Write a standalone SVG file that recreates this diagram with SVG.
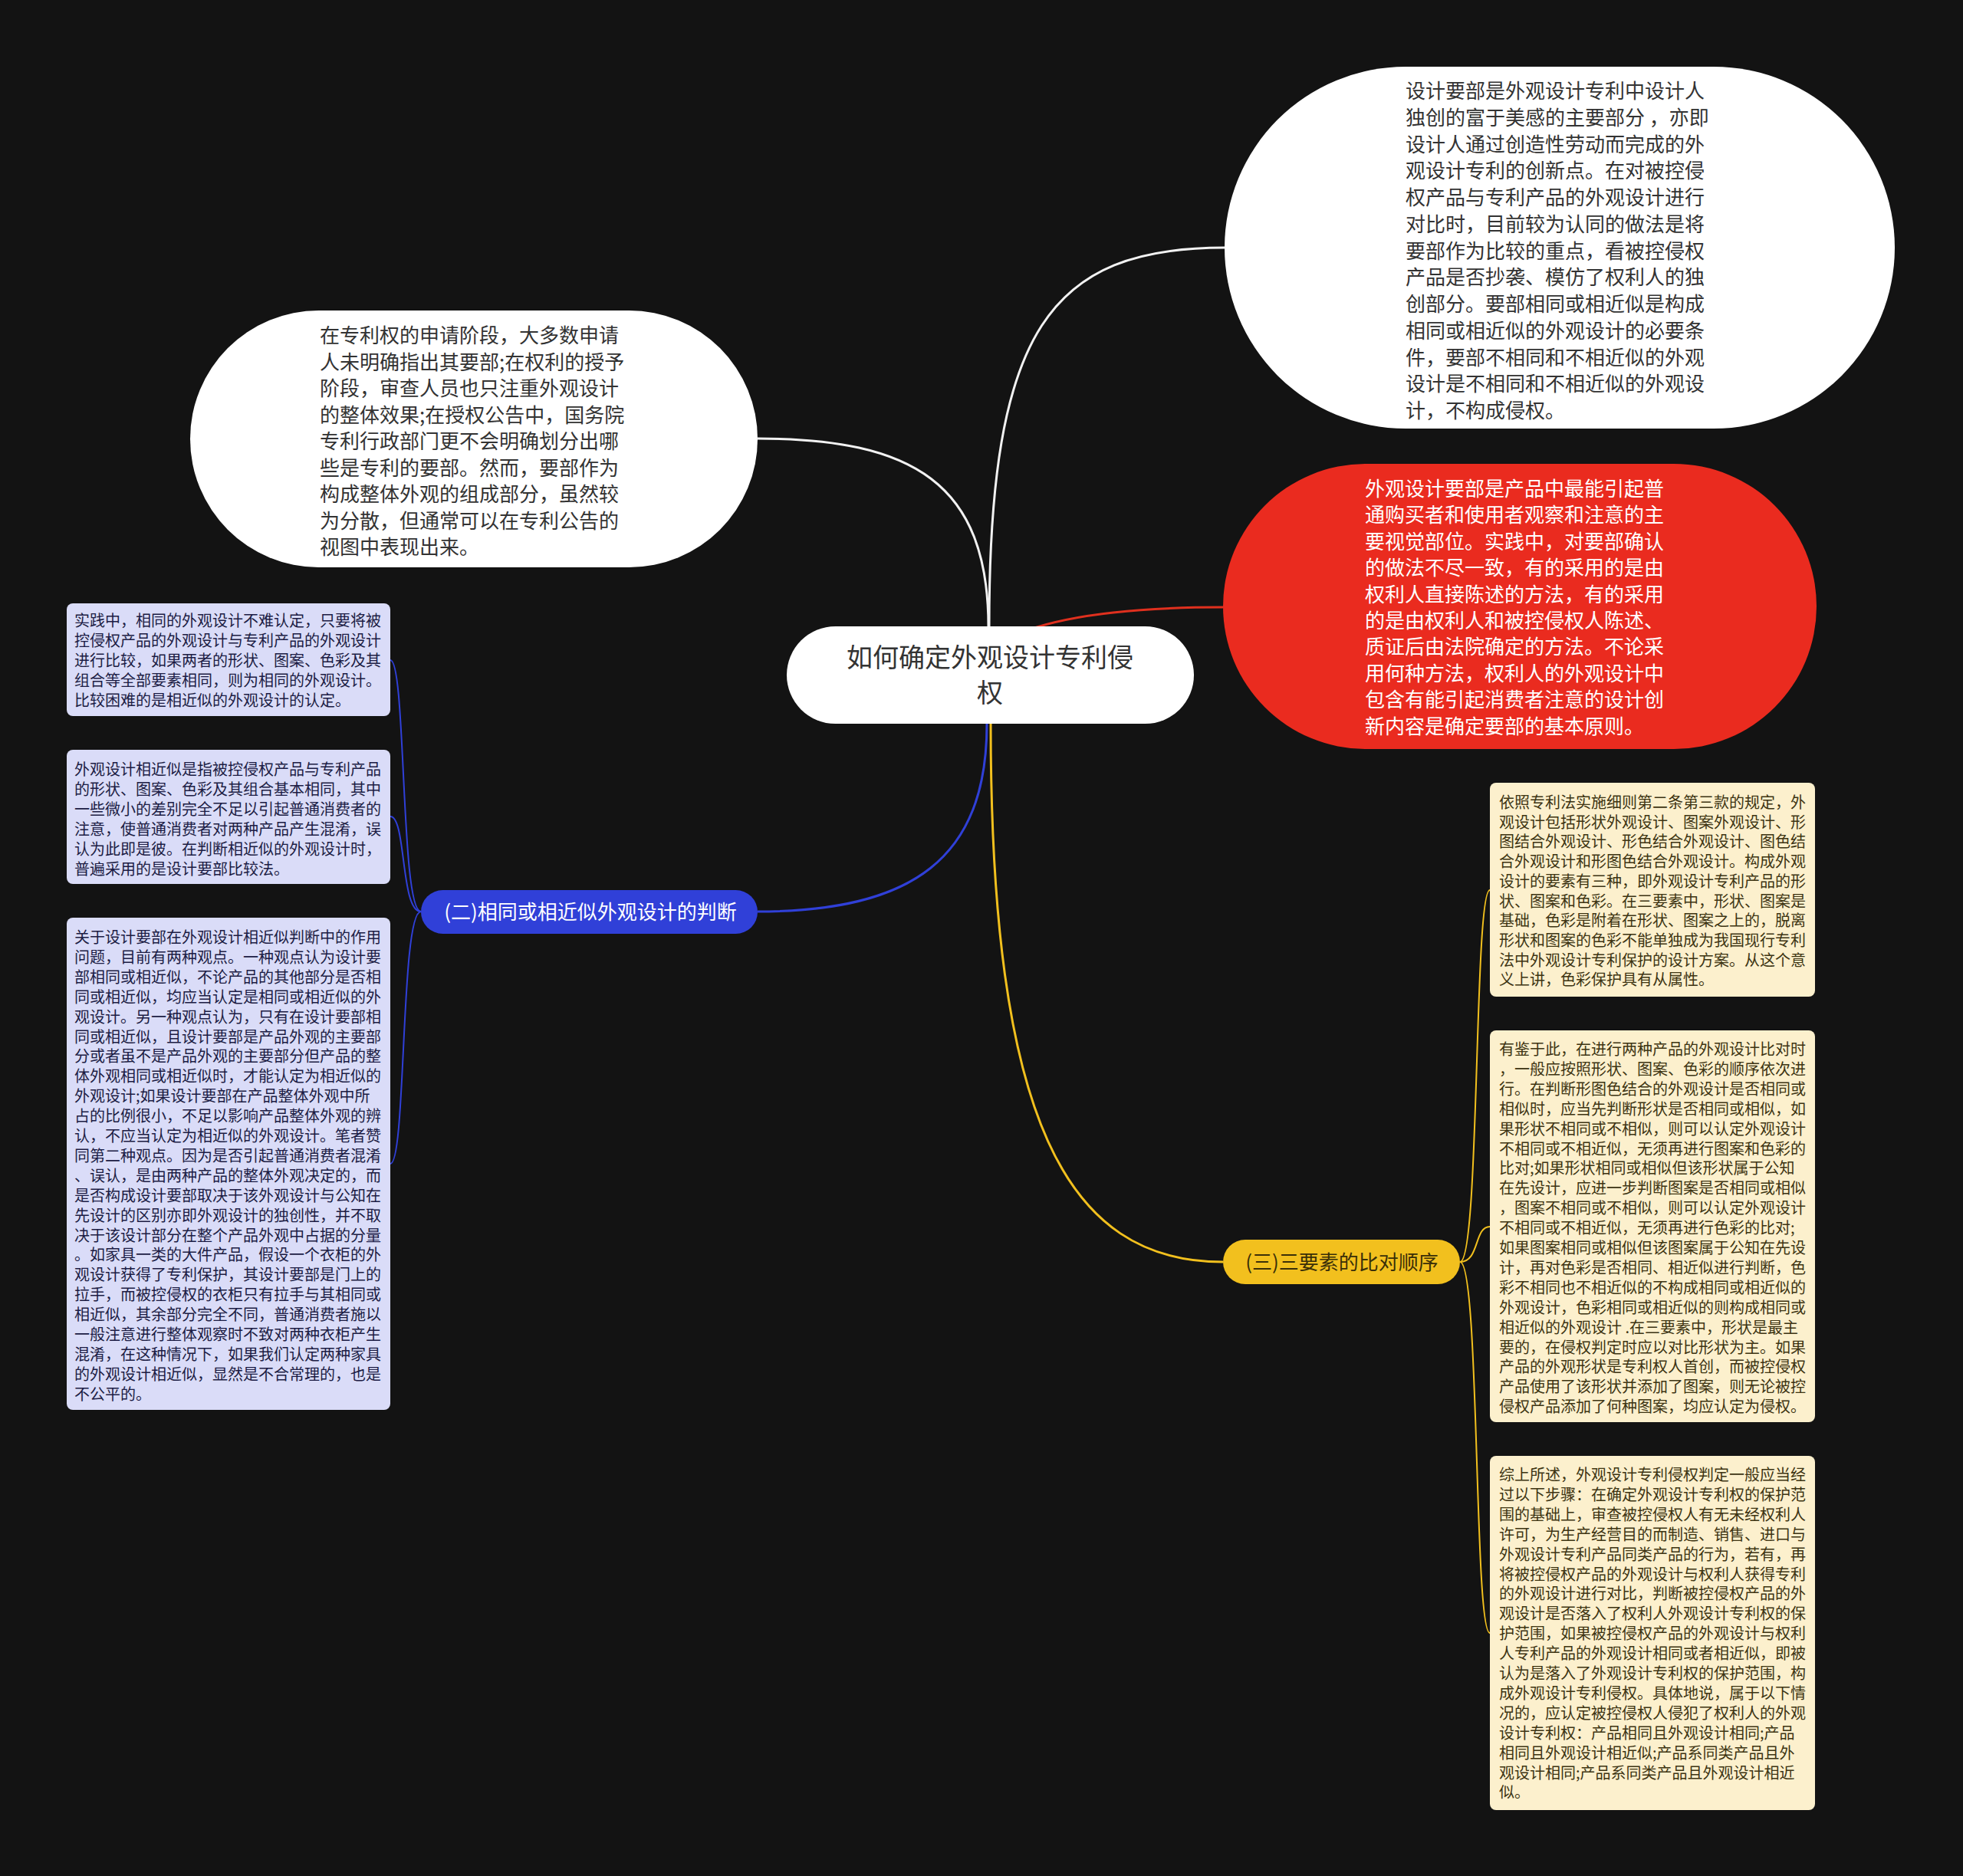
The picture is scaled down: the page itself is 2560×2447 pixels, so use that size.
<svg xmlns="http://www.w3.org/2000/svg" width="2560" height="2447" viewBox="0 0 2560 2447">
<style>
text{font-family:"Noto Sans CJK SC","Noto Sans",sans-serif}
.big{font-size:26px;fill:#333333}
.bigw{font-size:26px;fill:#ffffff}
.root{font-size:34px;fill:#333333}
.pill{font-size:26px}
.sm{font-size:20px}
.lav{fill:#dadcf8}
.crm{fill:#fcf0cd}
.lavt{fill:#1c1c44}
.crmt{fill:#3d3412}
.conn{fill:none;stroke-width:3}
.sub{fill:none;stroke-width:2}
</style>
<rect x="0" y="0" width="2560" height="2447" fill="#131313"/>
<g id="connectors">
<path class="conn" stroke="#f2f2f2" d="M1290,818 C1290,430 1370,323 1597,323"/>
<path class="conn" stroke="#f2f2f2" d="M1289,818 C1289,630 1190,572 988,572"/>
<path class="conn" stroke="#e0301e" d="M1300,840 Q1380,792 1595,792"/>
<path class="conn" stroke="#3040d8" d="M1287,944 C1287,1120 1190,1189 988,1189"/>
<path class="conn" stroke="#f2c01e" d="M1292,944 C1292,1460 1390,1646 1595,1646"/>
<path class="sub" stroke="#3040d8" d="M549,1189 C522,1189 530,861 509,861"/>
<path class="sub" stroke="#3040d8" d="M549,1189 C522,1189 530,1065 509,1065"/>
<path class="sub" stroke="#3040d8" d="M549,1189 C522,1189 530,1518 509,1518"/>
<path class="sub" stroke="#f2c01e" d="M1904,1646 C1930,1646 1922,1161 1943,1161"/>
<path class="sub" stroke="#f2c01e" d="M1904,1646 C1930,1646 1922,1600 1943,1600"/>
<path class="sub" stroke="#f2c01e" d="M1904,1646 C1930,1646 1922,2130 1943,2130"/>
</g>
<g id="root">
<rect x="1026" y="817" width="531" height="127" rx="63.5" fill="#ffffff"/>
<text class="root" x="1291" y="870" text-anchor="middle">如何确定外观设计专利侵</text>
<text class="root" x="1291" y="916" text-anchor="middle">权</text>
</g>
<g id="node-topright">
<rect x="1597" y="87" width="874" height="472" rx="236" fill="#ffffff"/>
<text class="big" x="1833" y="128">
<tspan x="1833">设计要部是外观设计专利中设计人</tspan>
<tspan x="1833" dy="34.75">独创的富于美感的主要部分 ，亦即</tspan>
<tspan x="1833" dy="34.75">设计人通过创造性劳动而完成的外</tspan>
<tspan x="1833" dy="34.75">观设计专利的创新点。在对被控侵</tspan>
<tspan x="1833" dy="34.75">权产品与专利产品的外观设计进行</tspan>
<tspan x="1833" dy="34.75">对比时，目前较为认同的做法是将</tspan>
<tspan x="1833" dy="34.75">要部作为比较的重点，看被控侵权</tspan>
<tspan x="1833" dy="34.75">产品是否抄袭、模仿了权利人的独</tspan>
<tspan x="1833" dy="34.75">创部分。要部相同或相近似是构成</tspan>
<tspan x="1833" dy="34.75">相同或相近似的外观设计的必要条</tspan>
<tspan x="1833" dy="34.75">件，要部不相同和不相近似的外观</tspan>
<tspan x="1833" dy="34.75">设计是不相同和不相近似的外观设</tspan>
<tspan x="1833" dy="34.75">计，不构成侵权。</tspan>
</text>
</g>
<g id="node-left">
<rect x="248" y="405" width="740" height="335" rx="167.5" fill="#ffffff"/>
<text class="big" x="417" y="447">
<tspan x="417">在专利权的申请阶段，大多数申请</tspan>
<tspan x="417" dy="34.5">人未明确指出其要部;在权利的授予</tspan>
<tspan x="417" dy="34.5">阶段，审查人员也只注重外观设计</tspan>
<tspan x="417" dy="34.5">的整体效果;在授权公告中，国务院</tspan>
<tspan x="417" dy="34.5">专利行政部门更不会明确划分出哪</tspan>
<tspan x="417" dy="34.5">些是专利的要部。然而，要部作为</tspan>
<tspan x="417" dy="34.5">构成整体外观的组成部分，虽然较</tspan>
<tspan x="417" dy="34.5">为分散，但通常可以在专利公告的</tspan>
<tspan x="417" dy="34.5">视图中表现出来。</tspan>
</text>
</g>
<g id="node-red">
<rect x="1595" y="605" width="774" height="372" rx="186" fill="#ea2b1f"/>
<text class="bigw" x="1780" y="647">
<tspan x="1780">外观设计要部是产品中最能引起普</tspan>
<tspan x="1780" dy="34.4">通购买者和使用者观察和注意的主</tspan>
<tspan x="1780" dy="34.4">要视觉部位。实践中，对要部确认</tspan>
<tspan x="1780" dy="34.4">的做法不尽一致，有的采用的是由</tspan>
<tspan x="1780" dy="34.4">权利人直接陈述的方法，有的采用</tspan>
<tspan x="1780" dy="34.4">的是由权利人和被控侵权人陈述、</tspan>
<tspan x="1780" dy="34.4">质证后由法院确定的方法。不论采</tspan>
<tspan x="1780" dy="34.4">用何种方法，权利人的外观设计中</tspan>
<tspan x="1780" dy="34.4">包含有能引起消费者注意的设计创</tspan>
<tspan x="1780" dy="34.4">新内容是确定要部的基本原则。</tspan>
</text>
</g>
<g id="branch-blue">
<rect x="549" y="1161" width="439" height="57" rx="28.5" fill="#3040d8"/>
<text class="pill" x="770" y="1199" text-anchor="middle" fill="#ffffff">(二)相同或相近似外观设计的判断</text>
</g>
<g id="branch-yellow">
<rect x="1595" y="1617" width="309" height="58" rx="29" fill="#f2c01e"/>
<text class="pill" x="1750" y="1656" text-anchor="middle" fill="#3a2f08">(三)三要素的比对顺序</text>
</g>
<g id="box-l1">
<rect class="lav" x="87" y="787" width="422" height="147" rx="8"/>
<text class="sm lavt" x="97" y="817">
<tspan x="97">实践中，相同的外观设计不难认定，只要将被</tspan>
<tspan x="97" dy="25.9">控侵权产品的外观设计与专利产品的外观设计</tspan>
<tspan x="97" dy="25.9">进行比较，如果两者的形状、图案、色彩及其</tspan>
<tspan x="97" dy="25.9">组合等全部要素相同，则为相同的外观设计。</tspan>
<tspan x="97" dy="25.9">比较困难的是相近似的外观设计的认定。</tspan>
</text>
</g>
<g id="box-l2">
<rect class="lav" x="87" y="978" width="422" height="175" rx="8"/>
<text class="sm lavt" x="97" y="1011">
<tspan x="97">外观设计相近似是指被控侵权产品与专利产品</tspan>
<tspan x="97" dy="25.9">的形状、图案、色彩及其组合基本相同，其中</tspan>
<tspan x="97" dy="25.9">一些微小的差别完全不足以引起普通消费者的</tspan>
<tspan x="97" dy="25.9">注意，使普通消费者对两种产品产生混淆，误</tspan>
<tspan x="97" dy="25.9">认为此即是彼。在判断相近似的外观设计时，</tspan>
<tspan x="97" dy="25.9">普遍采用的是设计要部比较法。</tspan>
</text>
</g>
<g id="box-l3">
<rect class="lav" x="87" y="1197" width="422" height="642" rx="8"/>
<text class="sm lavt" x="97" y="1230">
<tspan x="97">关于设计要部在外观设计相近似判断中的作用</tspan>
<tspan x="97" dy="25.9">问题，目前有两种观点。一种观点认为设计要</tspan>
<tspan x="97" dy="25.9">部相同或相近似，不论产品的其他部分是否相</tspan>
<tspan x="97" dy="25.9">同或相近似，均应当认定是相同或相近似的外</tspan>
<tspan x="97" dy="25.9">观设计。另一种观点认为，只有在设计要部相</tspan>
<tspan x="97" dy="25.9">同或相近似，且设计要部是产品外观的主要部</tspan>
<tspan x="97" dy="25.9">分或者虽不是产品外观的主要部分但产品的整</tspan>
<tspan x="97" dy="25.9">体外观相同或相近似时，才能认定为相近似的</tspan>
<tspan x="97" dy="25.9">外观设计;如果设计要部在产品整体外观中所</tspan>
<tspan x="97" dy="25.9">占的比例很小，不足以影响产品整体外观的辨</tspan>
<tspan x="97" dy="25.9">认，不应当认定为相近似的外观设计。笔者赞</tspan>
<tspan x="97" dy="25.9">同第二种观点。因为是否引起普通消费者混淆</tspan>
<tspan x="97" dy="25.9">、误认，是由两种产品的整体外观决定的，而</tspan>
<tspan x="97" dy="25.9">是否构成设计要部取决于该外观设计与公知在</tspan>
<tspan x="97" dy="25.9">先设计的区别亦即外观设计的独创性，并不取</tspan>
<tspan x="97" dy="25.9">决于该设计部分在整个产品外观中占据的分量</tspan>
<tspan x="97" dy="25.9">。如家具一类的大件产品，假设一个衣柜的外</tspan>
<tspan x="97" dy="25.9">观设计获得了专利保护，其设计要部是门上的</tspan>
<tspan x="97" dy="25.9">拉手，而被控侵权的衣柜只有拉手与其相同或</tspan>
<tspan x="97" dy="25.9">相近似，其余部分完全不同，普通消费者施以</tspan>
<tspan x="97" dy="25.9">一般注意进行整体观察时不致对两种衣柜产生</tspan>
<tspan x="97" dy="25.9">混淆，在这种情况下，如果我们认定两种家具</tspan>
<tspan x="97" dy="25.9">的外观设计相近似，显然是不合常理的，也是</tspan>
<tspan x="97" dy="25.9">不公平的。</tspan>
</text>
</g>
<g id="box-r1">
<rect class="crm" x="1943" y="1021" width="424" height="279" rx="8"/>
<text class="sm crmt" x="1955" y="1054">
<tspan x="1955">依照专利法实施细则第二条第三款的规定，外</tspan>
<tspan x="1955" dy="25.7">观设计包括形状外观设计、图案外观设计、形</tspan>
<tspan x="1955" dy="25.7">图结合外观设计、形色结合外观设计、图色结</tspan>
<tspan x="1955" dy="25.7">合外观设计和形图色结合外观设计。构成外观</tspan>
<tspan x="1955" dy="25.7">设计的要素有三种，即外观设计专利产品的形</tspan>
<tspan x="1955" dy="25.7">状、图案和色彩。在三要素中，形状、图案是</tspan>
<tspan x="1955" dy="25.7">基础，色彩是附着在形状、图案之上的，脱离</tspan>
<tspan x="1955" dy="25.7">形状和图案的色彩不能单独成为我国现行专利</tspan>
<tspan x="1955" dy="25.7">法中外观设计专利保护的设计方案。从这个意</tspan>
<tspan x="1955" dy="25.7">义上讲，色彩保护具有从属性。</tspan>
</text>
</g>
<g id="box-r2">
<rect class="crm" x="1943" y="1344" width="424" height="511" rx="8"/>
<text class="sm crmt" x="1955" y="1376">
<tspan x="1955">有鉴于此，在进行两种产品的外观设计比对时</tspan>
<tspan x="1955" dy="25.9">，一般应按照形状、图案、色彩的顺序依次进</tspan>
<tspan x="1955" dy="25.9">行。在判断形图色结合的外观设计是否相同或</tspan>
<tspan x="1955" dy="25.9">相似时，应当先判断形状是否相同或相似，如</tspan>
<tspan x="1955" dy="25.9">果形状不相同或不相似，则可以认定外观设计</tspan>
<tspan x="1955" dy="25.9">不相同或不相近似，无须再进行图案和色彩的</tspan>
<tspan x="1955" dy="25.9">比对;如果形状相同或相似但该形状属于公知</tspan>
<tspan x="1955" dy="25.9">在先设计，应进一步判断图案是否相同或相似</tspan>
<tspan x="1955" dy="25.9">，图案不相同或不相似，则可以认定外观设计</tspan>
<tspan x="1955" dy="25.9">不相同或不相近似，无须再进行色彩的比对;</tspan>
<tspan x="1955" dy="25.9">如果图案相同或相似但该图案属于公知在先设</tspan>
<tspan x="1955" dy="25.9">计，再对色彩是否相同、相近似进行判断，色</tspan>
<tspan x="1955" dy="25.9">彩不相同也不相近似的不构成相同或相近似的</tspan>
<tspan x="1955" dy="25.9">外观设计，色彩相同或相近似的则构成相同或</tspan>
<tspan x="1955" dy="25.9">相近似的外观设计 .在三要素中，形状是最主</tspan>
<tspan x="1955" dy="25.9">要的，在侵权判定时应以对比形状为主。如果</tspan>
<tspan x="1955" dy="25.9">产品的外观形状是专利权人首创，而被控侵权</tspan>
<tspan x="1955" dy="25.9">产品使用了该形状并添加了图案，则无论被控</tspan>
<tspan x="1955" dy="25.9">侵权产品添加了何种图案，均应认定为侵权。</tspan>
</text>
</g>
<g id="box-r3">
<rect class="crm" x="1943" y="1899" width="424" height="462" rx="8"/>
<text class="sm crmt" x="1955" y="1931">
<tspan x="1955">综上所述，外观设计专利侵权判定一般应当经</tspan>
<tspan x="1955" dy="25.9">过以下步骤：在确定外观设计专利权的保护范</tspan>
<tspan x="1955" dy="25.9">围的基础上，审查被控侵权人有无未经权利人</tspan>
<tspan x="1955" dy="25.9">许可，为生产经营目的而制造、销售、进口与</tspan>
<tspan x="1955" dy="25.9">外观设计专利产品同类产品的行为，若有，再</tspan>
<tspan x="1955" dy="25.9">将被控侵权产品的外观设计与权利人获得专利</tspan>
<tspan x="1955" dy="25.9">的外观设计进行对比，判断被控侵权产品的外</tspan>
<tspan x="1955" dy="25.9">观设计是否落入了权利人外观设计专利权的保</tspan>
<tspan x="1955" dy="25.9">护范围，如果被控侵权产品的外观设计与权利</tspan>
<tspan x="1955" dy="25.9">人专利产品的外观设计相同或者相近似，即被</tspan>
<tspan x="1955" dy="25.9">认为是落入了外观设计专利权的保护范围，构</tspan>
<tspan x="1955" dy="25.9">成外观设计专利侵权。具体地说，属于以下情</tspan>
<tspan x="1955" dy="25.9">况的，应认定被控侵权人侵犯了权利人的外观</tspan>
<tspan x="1955" dy="25.9">设计专利权：产品相同且外观设计相同;产品</tspan>
<tspan x="1955" dy="25.9">相同且外观设计相近似;产品系同类产品且外</tspan>
<tspan x="1955" dy="25.9">观设计相同;产品系同类产品且外观设计相近</tspan>
<tspan x="1955" dy="25.9">似。</tspan>
</text>
</g>
</svg>
